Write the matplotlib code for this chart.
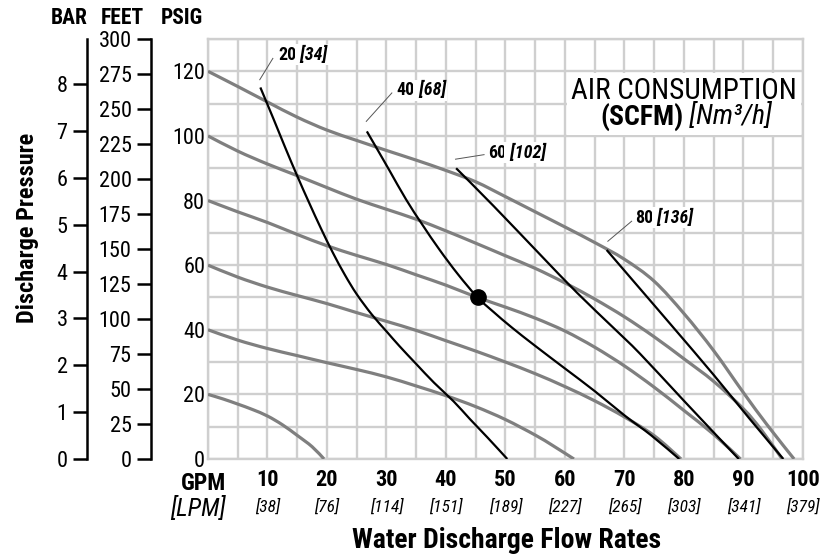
import matplotlib
matplotlib.use('Agg')
import matplotlib.pyplot as plt
import matplotlib.font_manager as fm
from matplotlib.patches import Rectangle, PathPatch
from matplotlib.path import Path
import numpy as np

# ---------- pick a condensed sans font ----------
prefs = ['Nimbus Sans Narrow', 'Liberation Sans Narrow', 'Arial Narrow', 'Roboto Condensed',
         'PT Sans Narrow', 'Pragati Narrow', 'Asap Condensed', 'Barlow Semi Condensed',
         'Barlow Condensed']
entries = {}
for f in fm.fontManager.ttflist:
    entries.setdefault(f.name, set()).add((int(f.weight) if str(f.weight).isdigit() else f.weight, f.style))
FONT = 'DejaVu Sans'
for p in prefs:
    e = entries.get(p, set())
    if (400, 'normal') in e and (700, 'normal') in e and (400, 'italic') in e:
        FONT = p
        break
plt.rcParams['font.family'] = [FONT, 'DejaVu Sans']

# ---------------- data ----------------
gpm_ticks = [10, 20, 30, 40, 50, 60, 70, 80, 90, 100]
lpm_labels = ['[38]', '[76]', '[114]', '[151]', '[189]', '[227]', '[265]', '[303]', '[341]', '[379]']
psig_ticks = [0, 20, 40, 60, 80, 100, 120]
feet_ticks = [0, 25, 50, 75, 100, 125, 150, 175, 200, 225, 250, 275, 300]
bar_ticks = [0, 1, 2, 3, 4, 5, 6, 7, 8]

# pump performance curves (flow GPM, discharge PSIG)
p120_x = [0, 5, 10, 15, 20, 25, 30, 35, 40, 45, 50, 55, 60, 65, 70, 75, 80, 85, 90, 94, 98.5]
p120_y = [120, 115.3, 110.5, 105.8, 101.8, 98.6, 95.5, 92.5, 89.3, 85.8, 81.2, 76.5, 71.8, 67, 61.8, 55, 45, 33.5, 20.5, 10.5, 0]
p100_x = [0, 5, 10, 15, 20, 25, 30, 35, 40, 45, 50, 55, 60, 65, 70, 75, 80, 85, 90, 93, 96.5]
p100_y = [100, 95.3, 91.3, 87.7, 84, 80.4, 77.3, 74.2, 70.6, 66.8, 62.9, 59, 54.5, 49.5, 44, 37.8, 31, 24, 15.5, 9, 0]
p80_x = [0, 5, 10, 15, 20, 25, 30, 35, 40, 45, 50, 55, 60, 65, 70, 75, 80, 85, 89.5]
p80_y = [80, 76.5, 73.2, 69.5, 66, 63, 60.2, 57, 53.8, 50.2, 47, 43.6, 39.6, 34.6, 28.8, 22.2, 15, 7.6, 0]
p60_x = [0, 5, 10, 15, 20, 25, 30, 35, 40, 45, 50, 55, 60, 65, 70, 75, 79.5]
p60_y = [60, 56.3, 53.2, 50.6, 48.1, 45.3, 42.6, 39.8, 36.6, 33.4, 30, 26.4, 22.4, 18, 13, 7.2, 0]
p40_x = [0, 5, 10, 15, 20, 25, 30, 35, 40, 45, 50, 55, 58, 61.5]
p40_y = [40, 36.8, 34.2, 32, 29.8, 27.7, 25.4, 22.6, 19.6, 16.2, 12.2, 7.4, 4.1, 0]
p20_x = [0, 2.5, 5, 7.5, 10, 12.5, 15, 17.5, 19.5]
p20_y = [20, 18.6, 17, 15.3, 13.3, 10.6, 7.3, 3.8, 0]

# air consumption curves (SCFM)
a20_x = [8.8, 11, 13, 15, 17, 19, 21, 23, 25, 27.5, 30, 32.2, 35, 38, 41.3, 44, 47, 50.3]
a20_y = [115, 105.3, 96.3, 87.6, 79.3, 71.3, 63.8, 57, 51, 44.8, 39.5, 34.9, 29.4, 23.6, 17.8, 12.4, 6.6, 0]
a40_x = [26.7, 28.5, 30.5, 33.3, 36, 38.9, 42, 45.3, 48, 51, 55, 60, 65, 70, 74.5, 79.2]
a40_y = [101.4, 95.7, 89.3, 80.3, 72.6, 64.8, 57.2, 50, 45.5, 40.8, 35, 28, 21, 13.5, 7.3, 0]
a60_x = [41.7, 48, 55.7, 62, 68.2, 72.6, 80, 89.2]
a60_y = [90, 78.3, 63.5, 51.5, 40.5, 32.6, 18, 0]
a80_x = [67, 72, 78.3, 85, 91, 96.7]
a80_y = [64.7, 54, 40.5, 26, 12.5, 0]

air_nums = ['20', '40', '60', '80']
air_nm3 = ['[34]', '[68]', '[102]', '[136]']

op_point_x = [45.3]
op_point_y = [50]


def smooth_path(xs, ys):
    """Catmull-Rom curve through the given points, as a Bezier path."""
    pts = np.column_stack([xs, ys]).astype(float)
    verts = [pts[0]]
    codes = [Path.MOVETO]
    n = len(pts)
    for i in range(n - 1):
        p0 = pts[i - 1] if i > 0 else pts[i]
        p1 = pts[i]
        p2 = pts[i + 1]
        p3 = pts[i + 2] if i + 2 < n else pts[i + 1]
        c1 = p1 + (p2 - p0) / 6.0
        c2 = p2 - (p3 - p1) / 6.0
        verts += [c1, c2, p2]
        codes += [Path.CURVE4] * 3
    return Path(verts, codes)


# ---------------- figure ----------------
W, H = 829, 559
fig = plt.figure(figsize=(W / 100, H / 100), dpi=100)


def fx(px):
    return px / W


def fy(py):
    return 1 - py / H


ax_l, ax_r, ax_t, ax_b = 208, 803, 39, 459
ax = fig.add_axes([fx(ax_l), fy(ax_b), (ax_r - ax_l) / W, (ax_b - ax_t) / H])
ax.set_xlim(0, 100)
ax.set_ylim(0, 130)

GRID = '#cfcfcf'
ax.set_xticks(np.arange(0, 101, 5), minor=True)
ax.set_yticks(np.arange(0, 131, 10), minor=True)
ax.set_xticks(gpm_ticks)
ax.set_xticklabels([str(v) for v in gpm_ticks], fontsize=16, fontweight='bold')
ax.set_yticks(psig_ticks)
ax.set_yticklabels([str(v) for v in psig_ticks], fontsize=16)
ax.grid(True, which='both', color=GRID, lw=1.7)
ax.set_axisbelow(True)
ax.tick_params(which='both', length=0)
ax.tick_params(axis='x', pad=7)
ax.tick_params(axis='y', pad=2)
for s in ax.spines.values():
    s.set_color(GRID)
    s.set_linewidth(1.7)

# LPM labels
for v, lab in zip(gpm_ticks, lpm_labels):
    ax.annotate(lab, xy=(v, 0), xycoords=('data', 'axes fraction'), xytext=(0, -48),
                textcoords='offset pixels', ha='center', va='center',
                fontsize=12.5, fontstyle='italic')

# white box for the title
ax.add_patch(Rectangle((60.3, 100.4), 39.4, 19.2, facecolor='white', edgecolor='none', zorder=1))

GRAY = '#7f7f7f'
for xs, ys in [(p120_x, p120_y), (p100_x, p100_y), (p80_x, p80_y),
               (p60_x, p60_y), (p40_x, p40_y), (p20_x, p20_y)]:
    ax.add_patch(PathPatch(smooth_path(xs, ys), fill=False, edgecolor=GRAY, lw=2.3,
                           capstyle='butt', zorder=3))

air_curves = [(a20_x, a20_y), (a40_x, a40_y), (a60_x, a60_y), (a80_x, a80_y)]
for xs, ys in air_curves:
    ax.add_patch(PathPatch(smooth_path(xs, ys), fill=False, edgecolor='black', lw=1.6,
                           capstyle='butt', zorder=4))

ax.plot(op_point_x, op_point_y, 'o', color='black', markersize=11, zorder=5)

# air consumption labels with leader lines (offsets from curve starts)
leader_start = [(-0.1, 2.4), (-0.1, 3.1), (-0.1, 2.8), (0.2, 2.7)]
leader_end = [(2.1, 9.0), (4.2, 11.9), (4.7, 4.2), (4.2, 8.9)]
label_pos = [(11.8, 125.2), (31.7, 114.2), (47.0, 94.8), (71.8, 74.7)]
for (xs, ys), ls, le, lp, n, m in zip(air_curves, leader_start, leader_end, label_pos, air_nums, air_nm3):
    x0, y0 = xs[0], ys[0]
    ax.plot([x0 + ls[0], x0 + le[0]], [y0 + ls[1], y0 + le[1]], color='#555555', lw=0.7, zorder=4)
    t1 = ax.text(lp[0], lp[1], n, fontsize=13, fontweight='bold', ha='left', va='center', zorder=6,
                 bbox=dict(facecolor='white', edgecolor='none', pad=1))
    ax.annotate(' ' + m, xy=(1, 0.5), xycoords=t1, ha='left', va='center', fontsize=13,
                fontweight='bold', fontstyle='italic', zorder=6,
                bbox=dict(facecolor='white', edgecolor='none', pad=1))

# title inside chart
fig.text(fx(684), fy(91), 'AIR CONSUMPTION', fontsize=21, ha='center', va='center')
t_scfm = fig.text(fx(600), fy(117), '(SCFM)', fontsize=20, fontweight='bold', ha='left', va='center')
ax.annotate(' [Nm\u00b3/h]', xy=(1, 0.5), xycoords=t_scfm, ha='left', va='center',
            fontsize=20, fontstyle='italic')


# secondary axes: FEET and BAR
def side_axis(px, top, ticks):
    a = fig.add_axes([fx(px), fy(ax_b), 0.0001, (ax_b - ax_t) / H])
    a.set_ylim(0, top)
    a.set_xticks([])
    for k in ['right', 'top', 'bottom']:
        a.spines[k].set_visible(False)
    a.spines['left'].set_linewidth(1.8)
    a.spines['left'].set_color('black')
    a.set_yticks(ticks)
    a.set_yticklabels([str(t) for t in ticks], fontsize=16)
    a.tick_params(axis='y', direction='out', length=10, width=1.8, pad=4)
    a.patch.set_visible(False)
    return a


side_axis(151, 300, feet_ticks)
side_axis(87, 130 / 14.5038, bar_ticks)

# headers / axis titles
fig.text(fx(69), fy(18), 'BAR', fontsize=15.5, fontweight='bold', ha='center', va='center')
fig.text(fx(122), fy(18), 'FEET', fontsize=15.5, fontweight='bold', ha='center', va='center')
fig.text(fx(182), fy(18), 'PSIG', fontsize=15.5, fontweight='bold', ha='center', va='center')
fig.text(fx(28), fy(228), 'Discharge Pressure', fontsize=17.5, fontweight='bold', rotation=90,
         ha='center', va='center')
fig.text(fx(204), fy(483), 'GPM', fontsize=17, fontweight='bold', ha='center', va='center')
fig.text(fx(198), fy(508), '[LPM]', fontsize=18, fontstyle='italic', ha='center', va='center')
fig.text(fx(507), fy(540), 'Water Discharge Flow Rates', fontsize=20, fontweight='bold',
         ha='center', va='center')

fig.savefig('out.png', dpi=100)
